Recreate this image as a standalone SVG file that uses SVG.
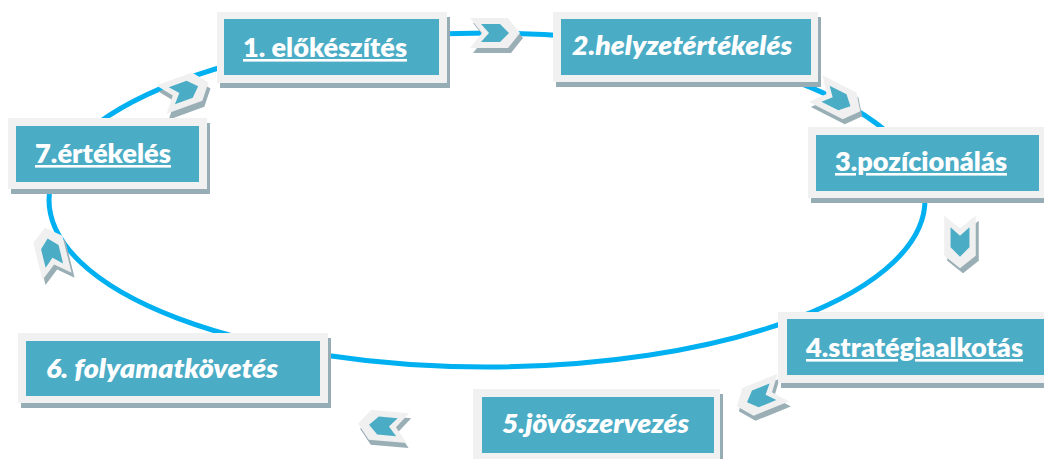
<svg xmlns="http://www.w3.org/2000/svg" xmlns:xlink="http://www.w3.org/1999/xlink" width="1044" height="459" viewBox="0 0 1044 459">
  <style>
    .ring { fill: none; stroke: #00b0f0; stroke-width: 5; }
    .frame { fill: #f1f1f1; }
    .shade { fill: #97adb5; }
    .face { fill: #4bacc6; }
    .label { font-family: Lato, "Open Sans", "Liberation Sans", sans-serif; font-size: 26px; font-weight: 800; fill: #ffffff; }
    .ul { text-decoration: underline; }
    .it { font-style: italic; }
    .cout { fill: #f0f0f0; }
    .csh { fill: #9aaeb6; }
    .cin { fill: #4bacc6; }
  </style>
  <defs>
    <path id="chev" d="M-25,-15 L13,-15 L25,0 L13,15 L-25,15 L-13,0 Z"/>
    <path id="chevIn" d="M-14,-9 L5,-9 L14,0 L5,9 L-14,9 L-6,0 Z"/>
  </defs>

  <!-- cycle ring and direction chevrons -->
  <g id="connectors">
    <ellipse class="ring" cx="487" cy="200" rx="438" ry="167"/>

    <g id="arrow-1-2">
      <use xlink:href="#chev" class="csh" transform="translate(498,38) rotate(0)"/>
      <g transform="translate(495,33) rotate(0)"><use xlink:href="#chev" class="cout"/><use xlink:href="#chevIn" class="cin"/></g>
    </g>
    <g id="arrow-2-3">
      <use xlink:href="#chev" class="csh" transform="translate(840,105) rotate(27)"/>
      <g transform="translate(838,100) rotate(27)"><use xlink:href="#chev" class="cout"/><use xlink:href="#chevIn" class="cin"/></g>
    </g>
    <g id="arrow-3-4">
      <use xlink:href="#chev" class="csh" transform="translate(963,247) rotate(90) scale(1.05)"/>
      <g transform="translate(960,242) rotate(90) scale(1.05)"><use xlink:href="#chev" class="cout"/><use xlink:href="#chevIn" class="cin"/></g>
    </g>
    <g id="arrow-4-5">
      <use xlink:href="#chev" class="csh" transform="translate(762,402) rotate(158)"/>
      <g transform="translate(760,397) rotate(158)"><use xlink:href="#chev" class="cout"/><use xlink:href="#chevIn" class="cin"/></g>
    </g>
    <g id="arrow-5-6">
      <use xlink:href="#chev" class="csh" transform="translate(385,431) rotate(185)"/>
      <g transform="translate(383,426) rotate(185)"><use xlink:href="#chev" class="cout"/><use xlink:href="#chevIn" class="cin"/></g>
    </g>
    <g id="arrow-6-7">
      <use xlink:href="#chev" class="csh" transform="translate(54,257) rotate(-104)"/>
      <g transform="translate(51,252) rotate(-104)"><use xlink:href="#chev" class="cout"/><use xlink:href="#chevIn" class="cin"/></g>
    </g>
    <g id="arrow-7-1">
      <use xlink:href="#chev" class="csh" transform="translate(187,97) rotate(-20)"/>
      <g transform="translate(185,91) rotate(-20)"><use xlink:href="#chev" class="cout"/><use xlink:href="#chevIn" class="cin"/></g>
    </g>
  </g>

  <!-- step boxes -->
  <g id="step1">
    <rect class="shade" x="220" y="17" width="230" height="71"/>
    <rect class="frame" x="217" y="12" width="230" height="71"/>
    <rect class="face" x="224" y="19" width="215" height="56"/>
    <text class="label ul" x="243" y="57" textLength="164" lengthAdjust="spacingAndGlyphs">1. előkészítés</text>
  </g>
  <g id="step2">
    <rect class="shade" x="556" y="17" width="265" height="70"/>
    <rect class="frame" x="553" y="12" width="265" height="70"/>
    <rect class="face" x="561" y="19" width="250" height="56"/>
    <text class="label it" x="572" y="55" textLength="220" lengthAdjust="spacingAndGlyphs">2.helyzetértékelés</text>
  </g>
  <g id="step3">
    <rect class="shade" x="811" y="132" width="240" height="71"/>
    <rect class="frame" x="808" y="127" width="240" height="71"/>
    <rect class="face" x="816" y="135" width="223" height="56"/>
    <text class="label ul" x="835" y="171" textLength="172" lengthAdjust="spacingAndGlyphs">3.pozícionálás</text>
  </g>
  <g id="step4">
    <rect class="shade" x="781" y="317" width="270" height="71"/>
    <rect class="frame" x="778" y="312" width="270" height="71"/>
    <rect class="face" x="787" y="319" width="260" height="56"/>
    <text class="label ul" x="806" y="357" textLength="217" lengthAdjust="spacingAndGlyphs">4.stratégiaalkotás</text>
  </g>
  <g id="step5">
    <rect class="shade" x="476" y="394" width="247" height="71"/>
    <rect class="frame" x="473" y="389" width="247" height="71"/>
    <rect class="face" x="482" y="397" width="232" height="56"/>
    <text class="label it" x="502" y="433" textLength="187" lengthAdjust="spacingAndGlyphs">5.jövőszervezés</text>
  </g>
  <g id="step6">
    <rect class="shade" x="21" y="338" width="310" height="70"/>
    <rect class="frame" x="18" y="333" width="310" height="70"/>
    <rect class="face" x="26" y="341" width="294" height="55"/>
    <text class="label it" x="46" y="378" textLength="232" lengthAdjust="spacingAndGlyphs">6. folyamatkövetés</text>
  </g>
  <g id="step7">
    <rect class="shade" x="11" y="123" width="199" height="71"/>
    <rect class="frame" x="8" y="118" width="199" height="71"/>
    <rect class="face" x="16" y="126" width="183" height="56"/>
    <text class="label ul" x="35" y="163" textLength="136" lengthAdjust="spacingAndGlyphs">7.értékelés</text>
  </g>
</svg>
